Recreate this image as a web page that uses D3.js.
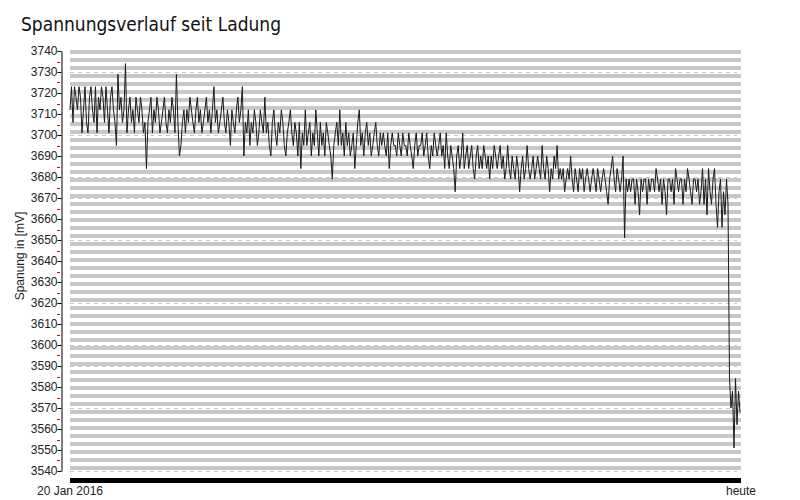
<!DOCTYPE html>
<html>
<head>
<meta charset="utf-8">
<script src="https://cdn.jsdelivr.net/npm/d3@7"></script>
<style>
  body { margin: 0; background: #fff; }
  text { font-family: "Liberation Sans", Arial, sans-serif; }
</style>
</head>
<body>
<svg id="chart" width="800" height="500"></svg>
<script>
// Spannung (mV), gleichmaessig ueber die Zeit seit Ladung
let voltage = [
  3712,3723,3706,3723,3718,3712,3723,3718,3701,3712,3723,3706,3701,3718,3723,3712,
  3706,3723,3701,3718,3712,3723,3718,3706,3723,3712,3701,3718,3723,3712,3706,3695,
  3729,3712,3718,3706,3712,
  3734,3701,3712,3718,3706,3712,3701,3718,3712,3706,3718,3712,3701,3706,3684,
  3706,3712,3718,3701,3712,3706,3718,3712,3701,3706,3712,3718,3706,3701,3712,3706,
  3718,3712,3701,3729,3706,3690,3695,
  3706,3712,3701,3712,3706,3718,3712,3706,3701,3712,3718,3706,3712,3701,3706,3712,
  3718,3706,3712,3701,3712,3723,
  3706,3712,3701,3706,3712,3718,3706,3701,3712,3706,3695,3712,3706,3701,3712,3718,
  3706,3712,3723,3690,
  3706,3701,3712,3695,3706,3701,3712,3706,3695,3701,3712,3706,3701,3718,3701,3706,
  3695,3690,3706,3712,3701,3695,3706,3701,3712,3706,3695,3690,3701,3706,3712,3701,
  3695,3706,3701,3690,3706,
  3684,3701,3695,3712,3695,3701,3706,3690,3701,3695,3712,3701,3690,3706,3695,3701,
  3690,3706,3701,3695,3690,3679,3695,3701,3706,3695,3712,3695,3701,3690,3706,3695,
  3701,3690,3695,3701,3684,3695,3706,3712,3695,3701,3690,3701,3706,3695,3701,3690,
  3695,3701,3706,3695,3690,3701,
  3695,3701,3695,3690,3701,3684,3695,3701,3695,3695,3690,3701,3695,3690,3701,3695,
  3695,3690,3701,3695,3690,3684,3695,3701,3690,3695,3695,3701,3690,3695,3701,3690,
  3684,3695,3690,3701,3695,3690,3695,3701,
  3690,3695,3684,3701,3690,3684,3695,3690,3684,3673,3690,3695,3684,3690,3701,3684,
  3690,3695,3684,3690,3695,3684,3679,3690,3695,3684,3690,3684,3695,3690,3684,3690,
  3679,3690,3684,3695,3690,3684,3690,3695,
  3684,3690,3679,3684,3695,3684,3679,3690,3684,3679,3690,3684,3673,3684,3690,3679,
  3684,3695,3684,3679,3684,3690,3679,3684,3690,3684,3679,3695,3684,3679,3690,3684,
  3673,3684,3679,3690,3684,3695,3679,3684,
  3679,3684,3673,3679,3684,3679,3690,3679,3673,3684,3679,3673,3684,3679,3684,3673,
  3679,3684,3679,3673,3679,3684,3679,3673,3684,3679,3673,3679,3684,3679,3673,3667,
  3679,3684,3690,3679,3673,3684,3679,3673,
  3679,3690,3651,3679,3673,
  3679,3673,3679,3679,3667,3679,3673,3662,3679,3673,3679,3679,3667,3679,3673,3679,
  3679,3673,3684,3679,3673,3679,3667,3679,3673,3662,3679,3679,3673,3679,3667,3684,
  3679,3673,3679,3679,3667,3679,3673,3684,3679,3673,3667,3679,3679,3673,3679,3667,
  3673,3684,3667,3679,3662,3684,3673,3667,3679,3684,3667,3656,3673,3679,3656,3673,
  3662,3679,3667,
  3584,3570,3578,3551,3584,3562,3578,3568
];

let yTicks = d3.range(3540, 3741, 10);
let yMinor = d3.range(3545, 3740, 10);
let startLabel = '20 Jan 2016';
let endLabel = 'heute';

let svg = d3.select('#chart');
let plot = {left: 70, right: 740, top: 51, bottom: 471};

let sx = d3.scaleLinear()
.domain([0, voltage.length-1])
.range([plot.left, plot.right]);

let sy = d3.scaleLinear()
.domain([3540, 3740])
.range([plot.bottom, plot.top]);

// title
svg.append('text')
.attr('x', 21)
.attr('y', 31)
.attr('font-size', 20)
.attr('textLength', 260)
.attr('lengthAdjust', 'spacingAndGlyphs')
.attr('fill', '#111')
.style('font-family', '"DejaVu Sans", sans-serif')
.text('Spannungsverlauf seit Ladung');

// dashed grid, mostly hidden behind the stripes
svg.append('g')
.selectAll('line')
.data(yTicks)
.enter()
.append('line')
.attr('x1', plot.left)
.attr('x2', plot.right-3)
.attr('y1', d=>Math.round(sy(d))+0.5)
.attr('y2', d=>Math.round(sy(d))+0.5)
.attr('stroke', '#c8c8c8')
.attr('stroke-dasharray', '4,4');

// stripes, 8px period
let stripes = d3.range(6, 59);
svg.append('g')
.selectAll('rect')
.data(stripes)
.enter()
.append('rect')
.attr('x', plot.left)
.attr('y', d=>d*8+2)
.attr('width', plot.right-plot.left+1)
.attr('height', 4)
.attr('fill', '#c8c8c8');

// y axis
let yAxis = d3.axisLeft(sy)
.tickValues(yTicks)
.tickSize(4)
.tickSizeOuter(0)
.tickFormat(d3.format('d'));

let ga = svg.append('g')
.attr('transform', 'translate(61.5,0)')
.call(yAxis);
ga.selectAll('text')
.attr('font-size', 12)
.attr('fill', '#222')
.attr('x', -4)
.style('font-family', '"Liberation Sans", Arial, sans-serif');
ga.select('.domain').attr('stroke', '#000');
ga.selectAll('.tick line').attr('stroke', '#000');

svg.append('g')
.selectAll('line')
.data(yMinor)
.enter()
.append('line')
.attr('x1', 57)
.attr('x2', 60)
.attr('y1', d=>Math.round(sy(d))+0.5)
.attr('y2', d=>Math.round(sy(d))+0.5)
.attr('stroke', '#e00000');

svg.append('text')
.attr('transform', 'translate(24,256) rotate(-90)')
.attr('text-anchor', 'middle')
.attr('font-size', 12)
.attr('fill', '#222')
.text('Spanung in [mV]');

// line
let line = d3.line()
.x((d,i)=>sx(i))
.y(d=>sy(d));

svg.append('path')
.datum(voltage)
.attr('d', line)
.attr('fill', 'none')
.attr('stroke', '#1a1a1a')
.attr('stroke-width', 1);

// time bar
svg.append('rect')
.attr('x', plot.left)
.attr('y', 478)
.attr('width', plot.right-plot.left+1)
.attr('height', 5)
.attr('fill', '#000');

svg.append('text')
.attr('x', plot.left)
.attr('y', 495)
.attr('text-anchor', 'middle')
.attr('font-size', 12)
.attr('fill', '#222')
.text(startLabel);

svg.append('text')
.attr('x', plot.right+1)
.attr('y', 495)
.attr('text-anchor', 'middle')
.attr('font-size', 12)
.attr('fill', '#222')
.text(endLabel);
</script>
</body>
</html>
